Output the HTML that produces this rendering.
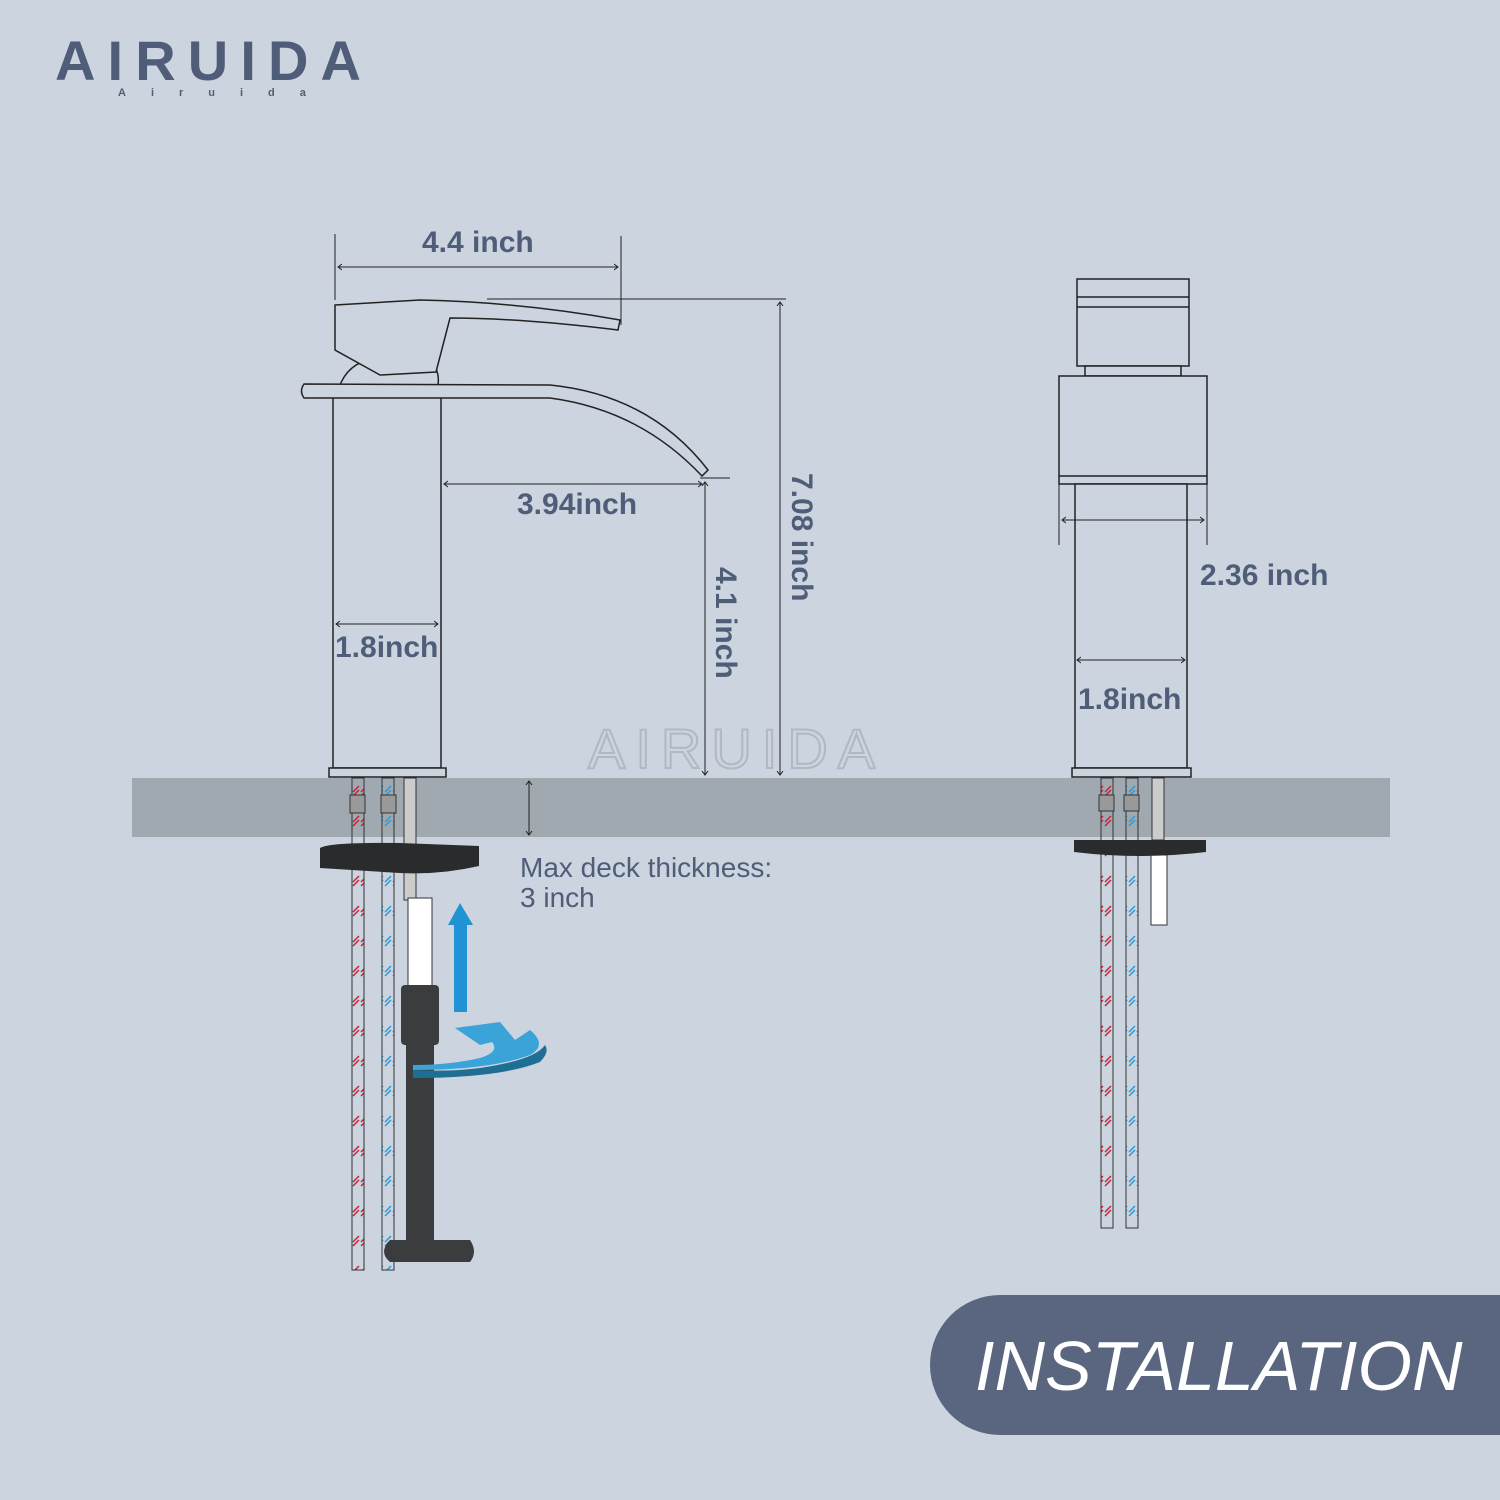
<!DOCTYPE html>
<html><head><meta charset="utf-8"><style>
html,body{margin:0;padding:0;width:1500px;height:1500px;overflow:hidden;background:#cbd4df}
svg{display:block}
text{font-family:"Liberation Sans",sans-serif}
</style></head><body>
<svg width="1500" height="1500" viewBox="0 0 1500 1500" xmlns="http://www.w3.org/2000/svg">
<defs>
<pattern id="red" width="8" height="30" patternUnits="userSpaceOnUse"><path d="M1 12 L7 6 M1 16 L7 10" stroke="#c8243c" stroke-width="1.5"/></pattern>
<pattern id="blue" width="8" height="30" patternUnits="userSpaceOnUse"><path d="M1 12 L7 6 M1 16 L7 10" stroke="#2d9ad8" stroke-width="1.5"/></pattern>
<marker id="a" markerWidth="8" markerHeight="8" refX="4" refY="4" orient="auto-start-reverse"><path d="M0 1 L4 4 L0 7" fill="none" stroke="#222" stroke-width="1"/></marker>
</defs>
<rect width="1500" height="1500" fill="#cbd4df"/>
<!-- logo -->
<text x="55" y="80" font-size="56" fill="#4f5d78" letter-spacing="14" font-weight="bold" textLength="320" lengthAdjust="spacing">AIRUIDA</text>
<text x="118" y="96" font-size="11" fill="#4f5d78" letter-spacing="25" font-weight="bold">Airuida</text>
<!-- watermark -->
<text x="588" y="768" font-size="56" fill="none" stroke="#b0b8c2" stroke-width="2" letter-spacing="10">AIRUIDA</text>

<!-- counter -->
<rect x="132" y="778" width="1258" height="59" fill="#a0a8b0"/>

<!-- left faucet -->
<g fill="#cbd4df" stroke="#222" stroke-width="1.5">
<rect x="333" y="396" width="108" height="372"/>
<rect x="329" y="768" width="117" height="9"/>
<path d="M340 385 Q350 360 380 358 L430 360 Q440 370 438 385Z"/>
<path d="M304 384 L550 385 Q650 395 708 470 L702 476 Q640 410 550 398 L304 398 Q299 391 304 384Z"/>
<path d="M335 305 L420 300 Q520 302 620 320 L618 330 Q520 318 450 318 L436 372 L380 375 L335 350Z"/>
</g>

<!-- left pipes -->
<rect x="352" y="778" width="12" height="492" fill="url(#red)" stroke="#333" stroke-width="1"/>
<rect x="382" y="778" width="12" height="492" fill="url(#blue)" stroke="#333" stroke-width="1"/>
<rect x="350" y="795" width="15" height="18" fill="#999" stroke="#333"/>
<rect x="381" y="795" width="15" height="18" fill="#999" stroke="#333"/>
<rect x="404" y="778" width="12" height="122" fill="#ccc" stroke="#333"/>
<rect x="408" y="898" width="24" height="90" fill="#fff" stroke="#333"/>
<path d="M320 848 Q330 842 400 843 L479 846 L479 866 Q440 875 400 873 L320 868Z" fill="#2a2b2d"/>
<rect x="401" y="985" width="38" height="60" rx="4" fill="#3b3c3e"/>
<rect x="406" y="1040" width="28" height="210" fill="#3b3c3e"/>
<path d="M390 1240 L470 1240 Q478 1252 470 1262 L390 1262 Q378 1252 390 1240Z" fill="#3b3c3e"/>
<path d="M454 1012 L454 925 L448 925 L460 903 L473 925 L467 925 L467 1012Z" fill="#1f93d4"/>
<path d="M413 1070 Q490 1070 530 1055 Q548 1045 530 1030 L515 1040 L500 1022 L455 1028 L480 1045 L492 1042 Q500 1052 480 1058 Q450 1065 413 1065Z" fill="#3aa3d8"/>
<path d="M413 1078 Q500 1078 540 1062 Q550 1052 545 1045 Q535 1060 480 1068 Q450 1072 413 1070Z" fill="#1f6f94"/>

<!-- right faucet -->
<g fill="#cbd4df" stroke="#222" stroke-width="1.5">
<rect x="1077" y="279" width="112" height="87"/>
<line x1="1077" y1="297" x2="1189" y2="297"/><line x1="1077" y1="307" x2="1189" y2="307"/>
<rect x="1085" y="366" width="96" height="10"/>
<rect x="1059" y="376" width="148" height="108"/>
<line x1="1059" y1="476" x2="1207" y2="476"/>
<rect x="1075" y="484" width="112" height="284"/>
<rect x="1072" y="768" width="119" height="9"/>
</g>
<rect x="1101" y="778" width="12" height="450" fill="url(#red)" stroke="#333"/>
<rect x="1126" y="778" width="12" height="450" fill="url(#blue)" stroke="#333"/>
<rect x="1099" y="795" width="15" height="16" fill="#999" stroke="#333"/>
<rect x="1124" y="795" width="15" height="16" fill="#999" stroke="#333"/>
<rect x="1152" y="778" width="12" height="62" fill="#ccc" stroke="#333"/>
<rect x="1151" y="855" width="16" height="70" fill="#fff" stroke="#333"/>
<path d="M1074 840 L1206 840 L1206 852 Q1140 860 1074 852Z" fill="#2a2b2d"/>

<!-- dims -->
<g stroke="#222" stroke-width="1" fill="none">
<line x1="335" y1="234" x2="335" y2="300"/><line x1="621" y1="236" x2="621" y2="325"/>
<line x1="338" y1="267" x2="618" y2="267" marker-start="url(#a)" marker-end="url(#a)"/>
<line x1="487" y1="299" x2="786" y2="299"/>
<line x1="780" y1="302" x2="780" y2="775" marker-start="url(#a)" marker-end="url(#a)"/>
<line x1="444" y1="484" x2="702" y2="484" marker-start="url(#a)" marker-end="url(#a)"/>
<line x1="700" y1="478" x2="730" y2="478"/>
<line x1="705" y1="482" x2="705" y2="775" marker-start="url(#a)" marker-end="url(#a)"/>
<line x1="336" y1="624" x2="438" y2="624" marker-start="url(#a)" marker-end="url(#a)"/>
<line x1="529" y1="781" x2="529" y2="835" marker-start="url(#a)" marker-end="url(#a)"/>
<line x1="1059" y1="484" x2="1059" y2="545"/><line x1="1207" y1="484" x2="1207" y2="545"/>
<line x1="1062" y1="520" x2="1204" y2="520" marker-start="url(#a)" marker-end="url(#a)"/>
<line x1="1077" y1="660" x2="1185" y2="660" marker-start="url(#a)" marker-end="url(#a)"/>
</g>
<g fill="#4f5d78" font-weight="bold" font-size="30">
<text x="422" y="252">4.4 inch</text>
<text x="517" y="514">3.94inch</text>
<text x="335" y="657">1.8inch</text>
<text transform="translate(792,473) rotate(90)">7.08 inch</text>
<text transform="translate(716,567) rotate(90)">4.1 inch</text>
<text x="1200" y="585">2.36 inch</text>
<text x="1078" y="709">1.8inch</text>
</g>
<text x="520" y="877" font-size="28" fill="#4f5d78">Max deck thickness:</text>
<text x="520" y="907" font-size="28" fill="#4f5d78">3 inch</text>

<!-- banner -->
<path d="M1000 1295 L1500 1295 L1500 1435 L1000 1435 A70 70 0 0 1 1000 1295Z" fill="#5a6680"/>
<text x="975" y="1390" font-size="70" fill="#fff" font-style="italic">INSTALLATION</text>
</svg>
</body></html>
